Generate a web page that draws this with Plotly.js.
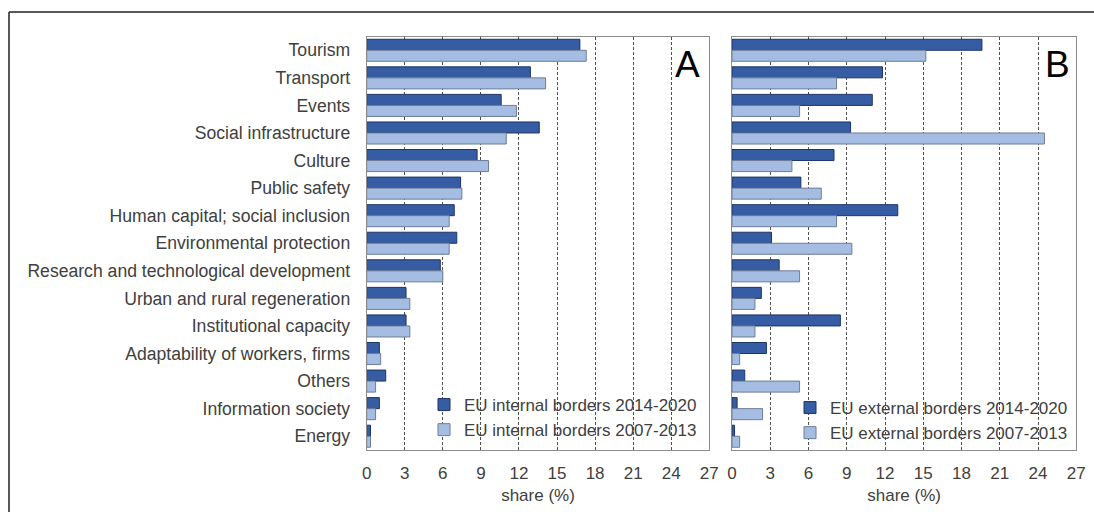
<!DOCTYPE html>
<html>
<head>
<meta charset="utf-8">
<script src="https://cdn.plot.ly/plotly-3.0.1.min.js"></script>
<style>
  html, body { margin: 0; padding: 0; background: #ffffff; }
  #chart { width: 1094px; height: 512px; }
</style>
</head>
<body>
<div id="chart"></div>
<script>
// Thematic categories, top to bottom
const categories = [
  "Tourism", "Transport", "Events", "Social infrastructure", "Culture",
  "Public safety", "Human capital; social inclusion", "Environmental protection",
  "Research and technological development", "Urban and rural regeneration",
  "Institutional capacity", "Adaptability of workers, firms", "Others",
  "Information society", "Energy"
];

// Share of projects (%) — EU internal borders
const internal2014 = [16.8, 12.9, 10.6, 13.6, 8.7, 7.4, 6.9, 7.1, 5.8, 3.1, 3.1, 1.0, 1.5, 1.0, 0.3];
const internal2007 = [17.3, 14.1, 11.8, 11.0, 9.6, 7.5, 6.5, 6.5, 6.0, 3.4, 3.4, 1.1, 0.7, 0.7, 0.3];

// Share of projects (%) — EU external borders
const external2014 = [19.6, 11.8, 11.0, 9.3, 8.0, 5.4, 13.0, 3.1, 3.7, 2.3, 8.5, 2.7, 1.0, 0.4, 0.2];
const external2007 = [15.2, 8.2, 5.3, 24.5, 4.7, 7.0, 8.2, 9.4, 5.3, 1.8, 1.8, 0.6, 5.3, 2.4, 0.6];

const xTicks = [0, 3, 6, 9, 12, 15, 18, 21, 24, 27];

const DARK = "#365da3", DARK_LINE = "#1d3566";
const LIGHT = "#a6bde3", LIGHT_LINE = "#6e7d96";
const TEXT = "#404040";
const FONT = "Liberation Sans, Arial, sans-serif";

function barTrace(values, name, fill, edge, xa, ya, legend) {
  return {
    type: "bar", orientation: "h",
    x: values, y: categories, name: name,
    xaxis: xa, yaxis: ya, legend: legend,
    marker: { color: fill, line: { color: edge, width: 1 } },
    hoverinfo: "x+y+name"
  };
}

const data = [
  barTrace(internal2014, "EU internal borders 2014-2020", DARK, DARK_LINE, "x", "y", "legend"),
  barTrace(internal2007, "EU internal borders 2007-2013", LIGHT, LIGHT_LINE, "x", "y", "legend"),
  barTrace(external2014, "EU external borders 2014-2020", DARK, DARK_LINE, "x2", "y2", "legend2"),
  barTrace(external2007, "EU external borders 2007-2013", LIGHT, LIGHT_LINE, "x2", "y2", "legend2")
];

const W = 1094, H = 512;
const px = v => v / W;
const py = v => 1 - v / H;

function xAxis(domain) {
  return {
    domain: domain, range: [0, 27], tickvals: xTicks, ticktext: xTicks.map(String),
    showgrid: true, gridcolor: "#505050", gridwidth: 1, griddash: "3px,2px",
    zeroline: false, showline: true, mirror: true, linecolor: "#8c8c8c", linewidth: 1,
    ticks: "outside", ticklen: 8, tickcolor: "rgba(0,0,0,0)",
    tickfont: { family: FONT, size: 17, color: TEXT },
    title: { text: "share (%)", standoff: 6, font: { family: FONT, size: 17, color: TEXT } },
    fixedrange: true
  };
}

function yAxis(domain, anchor, showLabels) {
  return {
    domain: domain, anchor: anchor, type: "category",
    categoryorder: "array", categoryarray: categories, autorange: "reversed",
    showgrid: false, zeroline: false, showline: true, mirror: true,
    linecolor: "#8c8c8c", linewidth: 1,
    showticklabels: showLabels, ticks: "", ticklabelstandoff: 12,
    tickfont: { family: FONT, size: 17.6, color: TEXT },
    fixedrange: true
  };
}

const yDom = [py(450), py(36.5)];

const legendFont = { family: FONT, size: 17, color: TEXT };

const layout = {
  width: W, height: H,
  margin: { l: 0, r: 0, t: 0, b: 0 },
  paper_bgcolor: "#ffffff", plot_bgcolor: "#ffffff",
  barmode: "group", bargap: 0.2, bargroupgap: 0,
  showlegend: true,
  xaxis: xAxis([px(366.7), px(709.3)]),
  yaxis: yAxis(yDom, "x", true),
  xaxis2: xAxis([px(732), px(1076.3)]),
  yaxis2: yAxis(yDom, "x2", false),
  legend: {
    x: px(424), y: py(387), xanchor: "left", yanchor: "top",
    bgcolor: "rgba(0,0,0,0)", borderwidth: 0, font: legendFont,
    traceorder: "normal", itemclick: false, itemdoubleclick: false
  },
  legend2: {
    x: px(790), y: py(390), xanchor: "left", yanchor: "top",
    bgcolor: "rgba(0,0,0,0)", borderwidth: 0, font: legendFont,
    traceorder: "normal", itemclick: false, itemdoubleclick: false
  },
  annotations: [
    { text: "A", xref: "paper", yref: "paper", x: px(687), y: py(64),
      xanchor: "center", yanchor: "middle", showarrow: false,
      font: { family: FONT, size: 37, color: "#000000" } },
    { text: "B", xref: "paper", yref: "paper", x: px(1057), y: py(64),
      xanchor: "center", yanchor: "middle", showarrow: false,
      font: { family: FONT, size: 37, color: "#000000" } }
  ],
  shapes: [
    // outer frame (top and left edges)
    { type: "line", xref: "paper", yref: "paper", x0: px(9), x1: 1.01, y0: py(12), y1: py(12),
      line: { color: "#222222", width: 1.5 } },
    { type: "line", xref: "paper", yref: "paper", x0: px(9), x1: px(9), y0: py(12), y1: -0.01,
      line: { color: "#222222", width: 1.5 } }
  ]
};

Plotly.newPlot("chart", data, layout, { displayModeBar: false, staticPlot: true });
</script>
</body>
</html>
